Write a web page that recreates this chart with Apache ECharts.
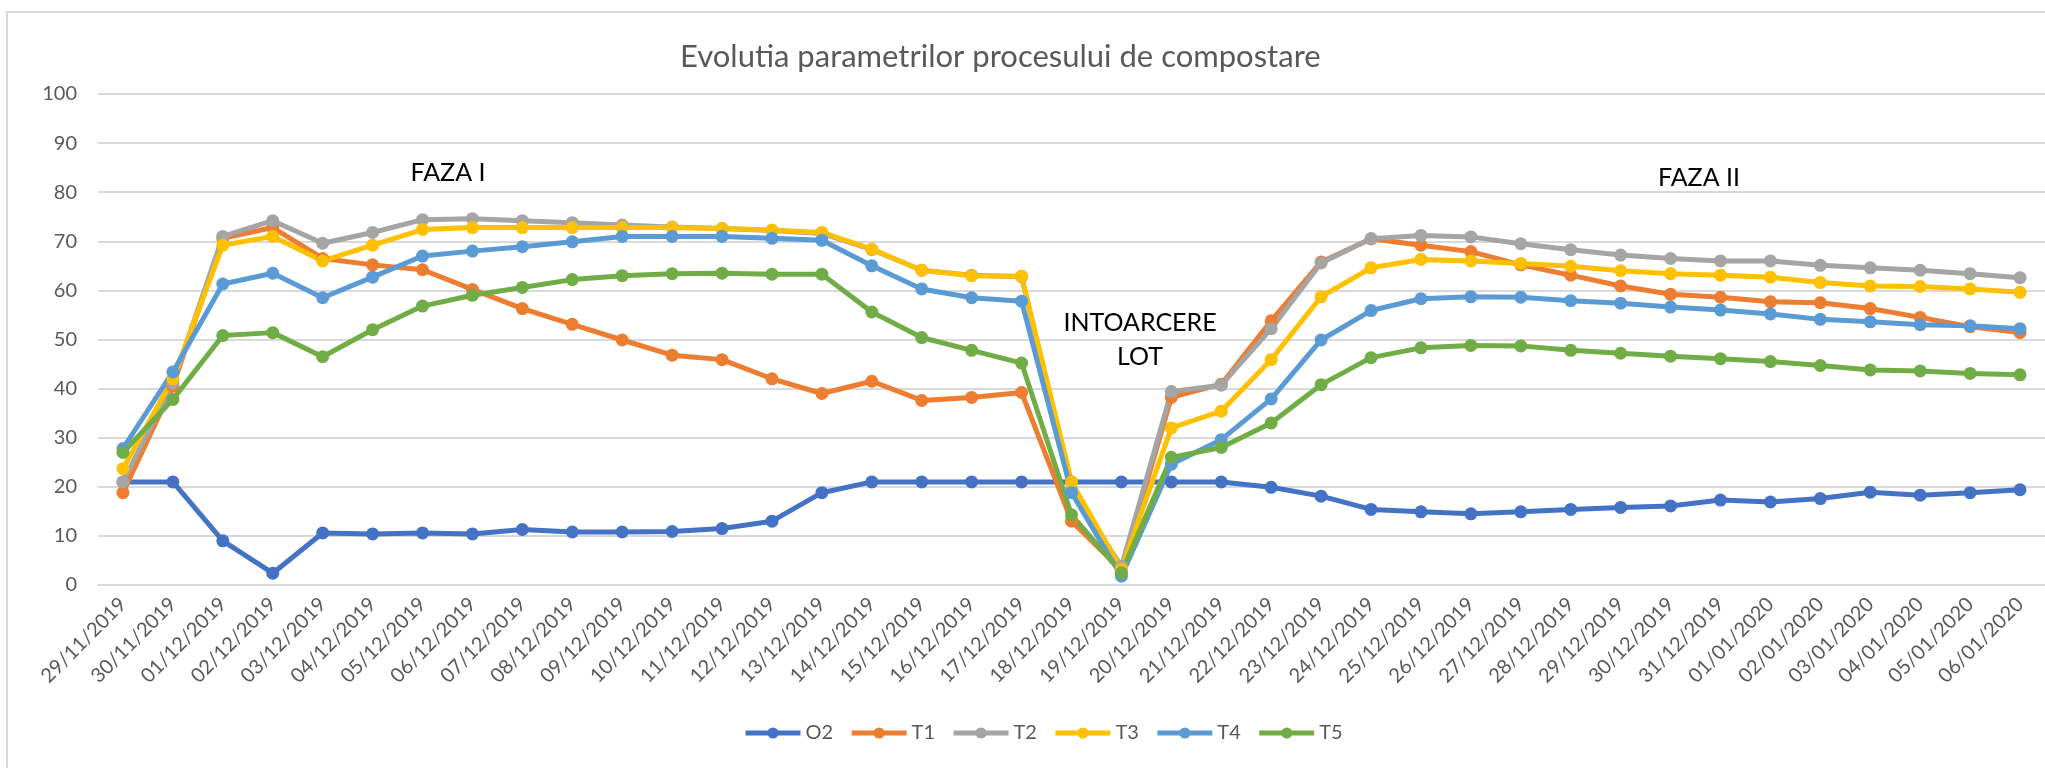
<!DOCTYPE html>
<html>
<head>
<meta charset="utf-8">
<title>Evolutia parametrilor procesului de compostare</title>
<script src="https://cdn.jsdelivr.net/npm/echarts@6/dist/echarts.min.js"></script>
<style>
  html, body { margin: 0; padding: 0; background: #fff; }
  #main { width: 2045px; height: 768px; }
</style>
</head>
<body>
<div id="main"></div>
<script>
// date de pe axa X
var zile = ["29/11/2019","30/11/2019","01/12/2019","02/12/2019","03/12/2019","04/12/2019","05/12/2019","06/12/2019",
  "07/12/2019","08/12/2019","09/12/2019","10/12/2019","11/12/2019","12/12/2019","13/12/2019","14/12/2019",
  "15/12/2019","16/12/2019","17/12/2019","18/12/2019","19/12/2019","20/12/2019","21/12/2019","22/12/2019",
  "23/12/2019","24/12/2019","25/12/2019","26/12/2019","27/12/2019","28/12/2019","29/12/2019","30/12/2019",
  "31/12/2019","01/01/2020","02/01/2020","03/01/2020","04/01/2020","05/01/2020","06/01/2020"];

var o2 = [21, 21, 9.0, 2.4, 10.6, 10.4, 10.6, 10.4, 11.3, 10.8, 10.8, 10.9, 11.5, 13.0, 18.8, 21, 21, 21, 21, 21,
  21, 21, 21, 19.9, 18.1, 15.4, 14.9, 14.5, 14.9, 15.4, 15.8, 16.1, 17.3, 16.9, 17.6, 18.9, 18.3, 18.8, 19.4];
var t1 = [18.8, 40.5, 70.6, 72.8, 66.5, 65.2, 64.2, 60.2, 56.3, 53.1, 49.9, 46.8, 45.9, 42.0, 39.0, 41.5, 37.6, 38.2, 39.2, 13.0,
  3.0, 38.2, 40.9, 53.8, 65.8, 70.5, 69.2, 67.9, 65.2, 63.1, 60.9, 59.2, 58.6, 57.7, 57.5, 56.3, 54.5, 52.6, 51.4];
var t2 = [21, 41.2, 71.0, 74.2, 69.6, 71.8, 74.4, 74.6, 74.2, 73.8, 73.3, 72.9, 72.6, 72.2, 71.6, 68.3, 64.1, 63.1, 62.8, 19.4,
  3.8, 39.4, 40.7, 52.2, 65.6, 70.5, 71.2, 70.9, 69.5, 68.3, 67.2, 66.5, 66.0, 66.0, 65.1, 64.6, 64.1, 63.4, 62.6];
var t3 = [23.7, 42.0, 69.2, 71.0, 66.0, 69.2, 72.4, 72.8, 72.8, 72.8, 72.8, 72.8, 72.6, 72.3, 71.8, 68.4, 64.1, 63.0, 62.9, 21.0,
  3.2, 32.0, 35.4, 45.9, 58.7, 64.6, 66.3, 66.0, 65.5, 64.9, 64.0, 63.4, 63.1, 62.7, 61.6, 60.9, 60.8, 60.3, 59.6];
var t4 = [27.8, 43.4, 61.3, 63.5, 58.5, 62.7, 67.0, 68.0, 68.9, 69.9, 71.0, 71.0, 71.0, 70.6, 70.2, 65.0, 60.3, 58.5, 57.8, 18.8,
  1.8, 24.6, 29.6, 37.9, 49.9, 55.9, 58.3, 58.7, 58.6, 57.9, 57.4, 56.6, 56.0, 55.2, 54.1, 53.6, 53.0, 52.8, 52.2];
var t5 = [27.0, 37.8, 50.8, 51.4, 46.5, 52.0, 56.8, 59.0, 60.6, 62.2, 63.0, 63.4, 63.5, 63.3, 63.3, 55.6, 50.4, 47.8, 45.2, 14.3,
  2.5, 26.0, 28.0, 33.0, 40.8, 46.3, 48.3, 48.8, 48.7, 47.8, 47.2, 46.6, 46.1, 45.5, 44.7, 43.8, 43.6, 43.1, 42.8];

var numeSerii = ["O2", "T1", "T2", "T3", "T4", "T5"];
var culori = ["#4472C4", "#ED7D31", "#A5A5A5", "#FFC000", "#5B9BD5", "#70AD47"];
var valori = [o2, t1, t2, t3, t4, t5];

var font = "Lato, 'Open Sans', sans-serif";

var serii = [];
for (var i = 0; i < numeSerii.length; i++) {
  serii.push({
    name: numeSerii[i],
    type: 'line',
    data: valori[i],
    symbol: 'circle',
    symbolSize: 13,
    lineStyle: { width: 5, color: culori[i] },
    itemStyle: { color: culori[i] },
    animation: false
  });
}

var myChart = echarts.init(document.getElementById("main"));
myChart.setOption({
  backgroundColor: '#fff',
  color: culori,
  title: {
    text: 'Evolutia parametrilor procesului de compostare',
    left: 675,
    top: 36,
    textStyle: { fontFamily: font, fontSize: 31, fontWeight: 'normal', color: '#595959' }
  },
  legend: {
    data: numeSerii,
    left: 738,
    top: 718,
    itemWidth: 55,
    itemHeight: 14,
    itemGap: 16,
    lineStyle: { width: 5 },
    textStyle: { fontFamily: font, fontSize: 20, color: '#595959' }
  },
  grid: { left: 98, width: 1954, top: 94, bottom: 183 },
  xAxis: {
    type: 'category',
    data: zile,
    boundaryGap: true,
    axisLine: { show: true, lineStyle: { color: '#D9D9D9', width: 2 } },
    axisTick: { show: false },
    axisLabel: {
      rotate: 45,
      interval: 0,
      margin: 16,
      fontFamily: font,
      fontSize: 20,
      color: '#595959'
    }
  },
  yAxis: {
    type: 'value',
    min: 0,
    max: 100,
    interval: 10,
    axisLine: { show: false },
    axisTick: { show: false },
    axisLabel: { margin: 21, fontFamily: font, fontSize: 20, color: '#595959' },
    splitLine: { lineStyle: { color: '#D9D9D9', width: 2 } }
  },
  graphic: [
    { type: 'rect', shape: { x: 7, y: 12, width: 2200, height: 900 },
      style: { fill: 'none', stroke: '#D9D9D9', lineWidth: 2 }, silent: true },
    { type: 'text', x: 448, y: 173,
      style: { text: 'FAZA I', font: '25px ' + font, fill: '#000', align: 'center', verticalAlign: 'middle' } },
    { type: 'text', x: 1140, y: 340,
      style: { text: 'INTOARCERE\nLOT', font: '25px ' + font, lineHeight: 34, fill: '#000', align: 'center', verticalAlign: 'middle' } },
    { type: 'text', x: 1699, y: 178,
      style: { text: 'FAZA II', font: '25px ' + font, fill: '#000', align: 'center', verticalAlign: 'middle' } }
  ],
  series: serii
});
</script>
</body>
</html>
